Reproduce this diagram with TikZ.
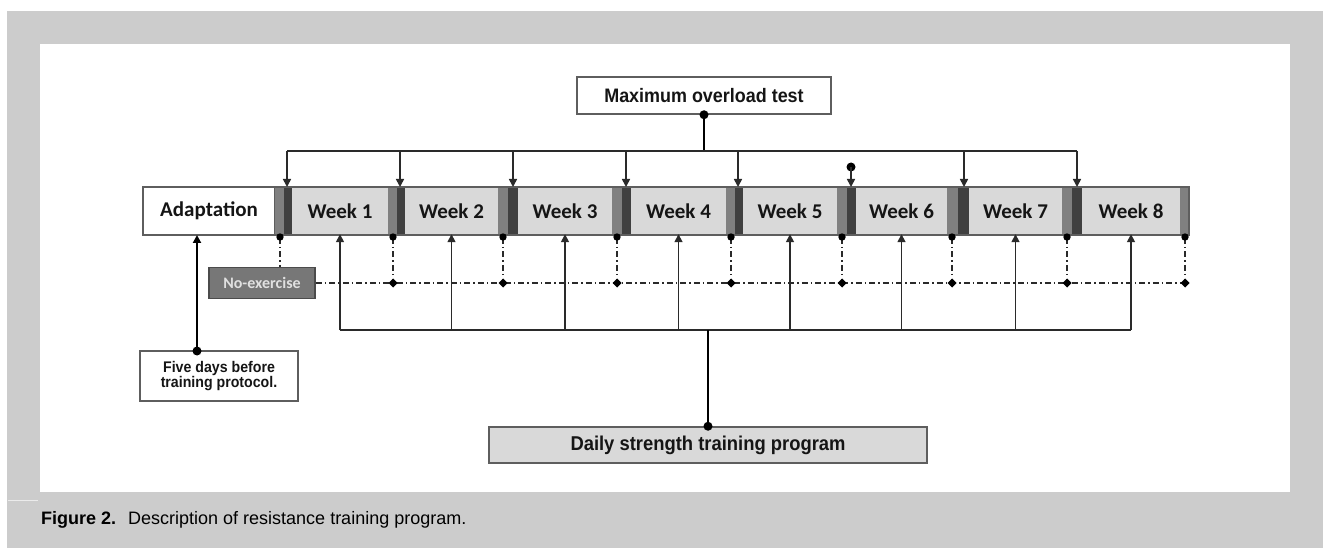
\documentclass[tikz,border=0pt]{standalone}
\usepackage{fontspec}
\setmainfont{Liberation Sans}
\newfontfamily\calfont{Carlito}
\newfontfamily\narfont[FakeStretch=0.92]{Liberation Sans}
\usetikzlibrary{arrows.meta}
\definecolor{pagegray}{HTML}{CCCCCC}
\definecolor{weekfill}{HTML}{D9D9D9}
\definecolor{midbar}{HTML}{808080}
\definecolor{darkbar}{HTML}{404040}
\definecolor{edge}{HTML}{5E5E5E}
\definecolor{noexfill}{HTML}{777777}
\definecolor{wire}{HTML}{2A2A2A}
\definecolor{inkc}{HTML}{151515}
\begin{document}
\begin{tikzpicture}[x=1pt,y=-1pt,
  box/.style={draw=edge, line width=1.5pt, inner sep=0pt, align=center, text=inkc},
  wk/.style={fill=weekfill, inner sep=0pt, minimum height=46pt, text=inkc,
    font=\calfont\bfseries\fontsize{21}{21}\selectfont},
  narbold/.style={font=\narfont\bfseries\fontsize{#1}{#1}\selectfont},
  conn/.style={draw=wire, line width=1.6pt},
  heavy/.style={draw=black, line width=2.6pt},
  tipped/.style={-{Triangle[length=8pt,width=8pt]}},
  dd/.style={draw=wire, line width=1.3pt, dash pattern=on 6pt off 3pt on 1.5pt off 3pt},
  bigdot/.style={fill=black},
]
\useasboundingbox (0,0) rectangle (1323,548);
\fill[white] (0,0) rectangle (1323,548);
\fill[pagegray] (7,11) rectangle (1323,548);
\fill[white] (40,44) rectangle (1290,492);
\draw[white!60!pagegray, line width=0.8pt] (8,500) -- (38,500);

% ---- timeline strip ----
\node[box, fill=white, minimum width=132pt, minimum height=48pt,
      font=\calfont\bfseries\fontsize{21}{21}\selectfont] (adapt) at (209,211) {Adaptation};
\foreach \i/\a/\b in {1/292/388, 2/405/498, 3/518/612, 4/631/726,
                      5/743/837, 6/856/947, 7/969/1062, 8/1082/1180}{
  \node[wk, minimum width={\b-\a}] (week\i) at ({(\a+\b)/2},211) {Week \i};
}
\foreach \m/\d in {280/287, 393/400, 503/513, 617/626, 731/738, 842/851, 952/964, 1067/1077}{
  \fill[midbar] ({\m-5},188) rectangle ({(\m+\d)/2},234);
  \fill[darkbar] ({(\m+\d)/2},188) rectangle ({\d+5},234);
}
\fill[midbar] (1180,188) rectangle (1189,234);
\draw[edge, line width=1.5pt] (143,187) rectangle (1189,235);

% ---- maximum overload test ----
\node[box, fill=white, minimum width=254pt, minimum height=37pt, narbold=19.5] (maxt) at (704,95.5) {Maximum overload test};
\coordinate (tl) at (287,151);
\coordinate (tr) at (1077,151);
\draw[heavy] (maxt.south) -- (maxt.south |- tl);
\fill[bigdot] (maxt.south) circle (4.5);
\draw[conn] (tl) -- (tr);
\foreach \d in {287,400,513,626,738,964,1077}{
  \draw[conn, tipped] (\d,151) -- (\d,187);
}
\coordinate (lone) at (851,167);
\fill[bigdot] (lone) circle (4.5);
\draw[conn, tipped] (lone) -- (851,187);

% ---- no-exercise ----
\node[box, draw=edge!80!black, fill=noexfill, minimum width=106pt, minimum height=31pt,
      text=white!88!black, font=\calfont\bfseries\fontsize{16}{16}\selectfont] (noex) at (262,283) {No-exercise};
\coordinate (sep1) at (280,238);
\draw[dd] (noex.east) -- (1185,283);
\draw[dd] (sep1) -- (sep1 |- noex.north);
\fill (280,237) circle (3.7);
\foreach \m in {393,503,617,731,842,952,1067,1185}{
  \draw[dd] (\m,238) -- (\m,283);
  \fill (\m,237) circle (3.7);
  \fill[shift={(\m,283)}] (-4.5,0) -- (0,-4.5) -- (4.5,0) -- (0,4.5) -- cycle;
}

% ---- daily strength training ----
\node[box, fill=weekfill, minimum width=438pt, minimum height=36pt, narbold=20] (daily) at (708,445) {Daily strength training program};
\coordinate (bl) at (340,330);
\coordinate (br) at (1131,330);
\draw[conn] (bl) -- (br);
\foreach \i in {1,...,8}{
  \draw[conn, tipped] (week\i.south |- bl) -- (week\i.south);
}
\draw[heavy] (daily.north |- bl) -- (daily.north);
\fill[bigdot] (daily.north) circle (4.5);

% ---- five days ----
\node[box, fill=white, minimum width=158pt, minimum height=50pt, narbold=15.4] (five) at (219,376)
  {Five days before\\[-1pt]training protocol.};
\coordinate (fivetop) at (197,351);
\draw[heavy, -{Triangle[length=8pt,width=8pt]}] (fivetop) -- (197,235);
\fill[bigdot] (fivetop) circle (4.5);

% ---- caption ----
\node[anchor=base west, inner sep=0pt, text=black, font=\bfseries\fontsize{18}{18}\selectfont] (figlab) at (41,524) {Figure 2.};
\node[anchor=base west, inner sep=0pt, text=black, font=\fontsize{18}{18}\selectfont] (figtxt) at (128,524) {Description of resistance training program.};
\end{tikzpicture}
\end{document}
